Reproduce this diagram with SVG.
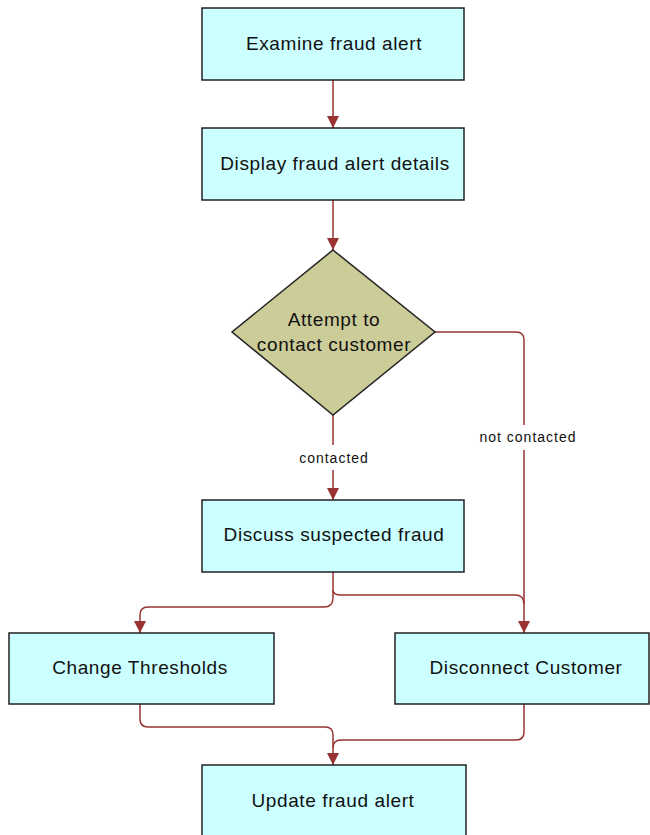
<svg xmlns="http://www.w3.org/2000/svg" width="650" height="835" viewBox="0 0 650 835">
<style>
.box{fill:#ccffff;stroke:#222;stroke-width:1.5}
.dia{fill:#cccc99;stroke:#222;stroke-width:1.5}
.t{font-family:"Liberation Sans",Arial,sans-serif;font-size:19px;letter-spacing:0.6px;fill:#111;text-anchor:middle}
.lbl{font-family:"Liberation Sans",Arial,sans-serif;font-size:14px;letter-spacing:1px;fill:#111;text-anchor:middle}
.c{fill:none;stroke:#993333;stroke-width:1.5}
</style>
<defs>
<marker id="ah" viewBox="0 0 12 12" refX="12" refY="6" markerWidth="12" markerHeight="12" markerUnits="userSpaceOnUse" orient="auto">
<path d="M0,0 L12,6 L0,12 Z" fill="#993333"/>
</marker>
</defs>
<rect width="650" height="835" fill="#fff"/>
<g id="connectors">
<path class="c" d="M333,80 V128" marker-end="url(#ah)"/>
<path class="c" d="M333,200 V250" marker-end="url(#ah)"/>
<path class="c" d="M333,415 V445 M333,470 V500" marker-end="url(#ah)"/>
<path class="c" d="M435,332 H516 Q524,332 524,340 V425 M524,450 V633" marker-end="url(#ah)"/>
<path class="c" d="M333,572 V598 Q333,607 324,607 H148 Q140,607 140,615 V633" marker-end="url(#ah)"/>
<path class="c" d="M333,590 Q333,595 341,595 H515 Q524,595 524,604"/>
<path class="c" d="M140,704 V719 Q140,727 148,727 H325 Q333,727 333,735 V765" marker-end="url(#ah)"/>
<path class="c" d="M524,704 V732 Q524,740 516,740 H341 Q333,740 333,748"/>
<text class="lbl" x="334" y="463">contacted</text>
<text class="lbl" x="528" y="442">not contacted</text>
</g>
<g id="n1"><rect class="box" x="202" y="8" width="262" height="72"/><text class="t" x="334" y="50">Examine fraud alert</text></g>
<g id="n2"><rect class="box" x="202" y="128" width="262" height="72"/><text class="t" x="335" y="170">Display fraud alert details</text></g>
<g id="n3"><polygon class="dia" points="333,250 435,332 333,415 232,332"/><text class="t" x="334" y="326">Attempt to</text><text class="t" x="334" y="351">contact customer</text></g>
<g id="n4"><rect class="box" x="202" y="500" width="262" height="72"/><text class="t" x="334" y="541">Discuss suspected fraud</text></g>
<g id="n5"><rect class="box" x="9" y="633" width="265" height="71"/><text class="t" x="140" y="674">Change Thresholds</text></g>
<g id="n6"><rect class="box" x="395" y="633" width="254" height="71"/><text class="t" x="526" y="674">Disconnect Customer</text></g>
<g id="n7"><rect class="box" x="202" y="765" width="264" height="72"/><text class="t" x="333" y="807">Update fraud alert</text></g>
</svg>
